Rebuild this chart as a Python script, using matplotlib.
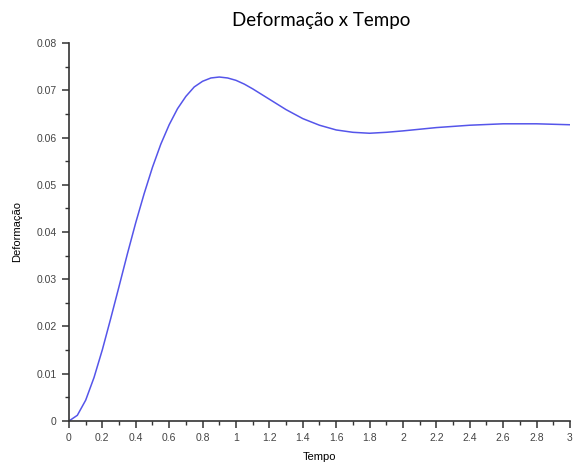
import matplotlib.pyplot as plt
from matplotlib.ticker import MultipleLocator

# values
tempo = [0, 0.05, 0.1, 0.15, 0.2, 0.25, 0.3, 0.35, 0.4, 0.45, 0.5, 0.55, 0.6, 0.65,
         0.7, 0.75, 0.8, 0.85, 0.9, 0.95, 1.0, 1.05, 1.1, 1.2, 1.3, 1.4, 1.5, 1.6,
         1.7, 1.8, 1.9, 2.0, 2.2, 2.4, 2.6, 2.8, 3.0]
deformacao = [0, 0.0012, 0.0044, 0.0092, 0.0151, 0.0217, 0.0285, 0.0354, 0.0420, 0.0481,
              0.0537, 0.0586, 0.0627, 0.0661, 0.0687, 0.0707, 0.0719, 0.0726, 0.0728,
              0.0726, 0.0721, 0.0713, 0.0703, 0.0681, 0.0659, 0.0640, 0.0626, 0.0616,
              0.0611, 0.0609, 0.0611, 0.0614, 0.0621, 0.0626, 0.0629, 0.0629, 0.0627]

xticks = [0, 0.2, 0.4, 0.6, 0.8, 1, 1.2, 1.4, 1.6, 1.8, 2, 2.2, 2.4, 2.6, 2.8, 3]
xlabels = ["0", "0.2", "0.4", "0.6", "0.8", "1", "1.2", "1.4", "1.6", "1.8",
           "2", "2.2", "2.4", "2.6", "2.8", "3"]
yticks = [0, 0.01, 0.02, 0.03, 0.04, 0.05, 0.06, 0.07, 0.08]
ylabels = ["0", "0.01", "0.02", "0.03", "0.04", "0.05", "0.06", "0.07", "0.08"]

fig = plt.figure(figsize=(5.87, 4.66), dpi=100)
ax = fig.add_axes([0.1175, 0.0966, 0.8535, 0.8111])

ax.plot(tempo, deformacao, color="#5555ea", lw=1.1)

ax.set_xlim(0, 3)
ax.set_ylim(0, 0.08)
ax.set_xticks(xticks)
ax.set_xticklabels(xlabels)
ax.set_yticks(yticks)
ax.set_yticklabels(ylabels)
ax.xaxis.set_minor_locator(MultipleLocator(0.1))
ax.yaxis.set_minor_locator(MultipleLocator(0.005))

for s in ["top", "right"]:
    ax.spines[s].set_visible(False)
ax.spines["left"].set_linewidth(1.2)
ax.spines["bottom"].set_linewidth(1.2)
ax.spines["left"].set_color("#333333")
ax.spines["bottom"].set_color("#333333")
ax.tick_params(which="major", direction="out", length=5, width=1.1, color="#333333",
               labelsize=7.5, labelcolor="#444444", pad=4)
ax.tick_params(which="minor", direction="out", length=3, width=1.0, color="#333333")
for lbl in ax.get_xticklabels() + ax.get_yticklabels():
    lbl.set_family("Liberation Sans")

ax.set_xlabel("Tempo", fontsize=8, family="Liberation Sans", labelpad=6)
ax.set_ylabel("Deformação", fontsize=8, family="Liberation Sans", labelpad=10)
fig.text(0.548, 0.957, "Deformação x Tempo", fontsize=13.5, family="Lato",
         ha="center", va="center")

plt.savefig("out.png")
